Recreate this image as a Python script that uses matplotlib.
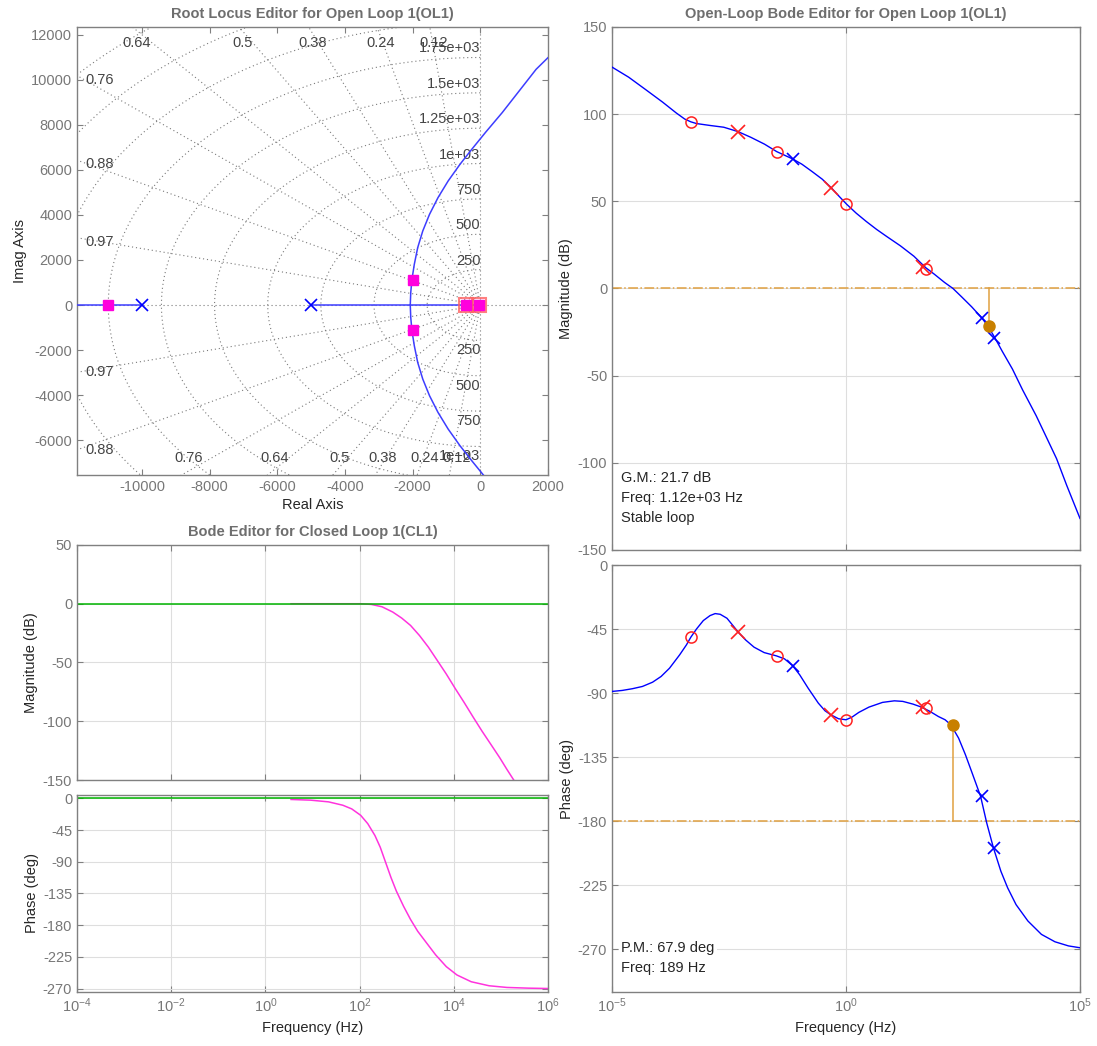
import numpy as np
import matplotlib.pyplot as plt
from matplotlib.ticker import NullLocator, FixedLocator, LogFormatterSciNotation

plt.rcParams['font.family'] = ['Liberation Sans', 'DejaVu Sans']
plt.rcParams['mathtext.fontset'] = 'custom'
plt.rcParams['mathtext.rm'] = 'Liberation Sans'
plt.rcParams['mathtext.it'] = 'Liberation Sans:italic'
plt.rcParams['axes.unicode_minus'] = False

# ---- root locus data (rad/s) ----
ol_pole_re = [-10000, -5000]
cl_pole_re = [-11000, -2000, -2000, -410, -50]
cl_pole_im = [0, 1120, -1120, 0, 0]
comp_re = [-410, -50]
# upper complex branch, lower one is its conjugate
branch_re = [-2070, -2055, -2020, -1950, -1850, -1700, -1500, -1250, -950,
             -600, -250, 150, 650, 1150, 1650, 2050]
branch_im = [0, 560, 1140, 1810, 2550, 3290, 4030, 4770, 5510,
             6250, 6920, 7660, 8550, 9510, 10470, 11060]
real_seg1 = [-20000, -10000]
real_seg2 = [-5000, 0]
zeta_vals = [0.12, 0.24, 0.38, 0.5, 0.64, 0.76, 0.88, 0.97]
wn_hz = [250, 500, 750, 1000, 1250, 1500, 1750, 2000, 2250, 2500]

# ---- closed loop bode (log10 Hz, dB, deg) ----
cl_mag_fexp = [0.545, 2.023, 2.250, 2.477, 2.705, 2.894, 3.083, 3.273, 3.462, 3.652,
               3.841, 4.030, 4.220, 4.409, 4.598, 4.788, 4.977, 5.129, 5.280]
cl_mag_db = [0, 0, -0.6, -2.6, -7.1, -12.2, -18.5, -27.1, -37.0, -48.4,
             -59.8, -72.1, -84.0, -96.3, -108.3, -119.7, -131.1, -141.0, -150.4]
cl_ph_fexp = [0.545, 0.962, 1.341, 1.644, 1.833, 2.023, 2.174, 2.326, 2.439, 2.553,
              2.667, 2.780, 2.932, 3.083, 3.235, 3.424, 3.614, 3.841, 4.068, 4.371,
              4.750, 5.129, 5.583, 6.0]
cl_ph_deg = [-1.4, -2.4, -4.8, -9.6, -14.8, -23.9, -35.8, -52.6, -69.3, -90.8,
             -112.3, -131.4, -152.9, -172.0, -188.7, -205.4, -222.1, -238.9, -250.8, -260.4,
             -266.1, -268.5, -269.5, -270.0]

# ---- open loop bode ----
ol_mag_fexp = [-5.0, -4.644, -4.282, -3.919, -3.628, -3.447, -3.316, -3.193, -2.903, -2.612,
               -2.308, -2.032, -1.742, -1.480, -1.132, -0.943, -0.726, -0.508, -0.312, -0.145,
               0.015, 0.218, 0.435, 0.653, 0.871, 1.161, 1.451, 1.705, 1.887, 2.104,
               2.286, 2.467, 2.685, 2.903, 3.033, 3.179, 3.338, 3.556, 3.774, 4.064,
               4.282, 4.499, 4.717, 5.0]
ol_mag_db = [127.0, 121.2, 114.1, 106.9, 100.7, 97.2, 95.6, 94.6, 93.5, 92.5,
             90.0, 86.7, 82.8, 78.5, 74.2, 71.3, 67.1, 62.7, 57.7, 52.8,
             48.3, 43.2, 38.4, 33.9, 29.8, 24.5, 18.5, 11.9, 8.2, 3.5,
             0.0, -4.7, -10.5, -16.9, -21.6, -28.2, -36.0, -46.2, -58.2, -73.0,
             -85.3, -97.6, -113.0, -131.9]
ol_ph_fexp = [-5.0, -4.783, -4.566, -4.350, -4.133, -3.952, -3.772, -3.555, -3.410, -3.316,
              -3.194, -3.049, -2.905, -2.796, -2.688, -2.543, -2.399, -2.312, -2.146, -1.965,
              -1.749, -1.488, -1.315, -1.142, -0.990, -0.809, -0.592, -0.448, -0.325, -0.159,
              0.0, 0.130, 0.275, 0.491, 0.780, 1.033, 1.214, 1.431, 1.611, 1.792,
              1.973, 2.117, 2.240, 2.406, 2.551, 2.695, 2.876, 3.006, 3.150, 3.309,
              3.454, 3.634, 3.887, 4.176, 4.465, 4.754, 5.0]
ol_ph_deg = [-88.8, -88.1, -86.9, -85.3, -82.3, -78.3, -72.5, -63.1, -56.1, -50.7,
             -44.9, -39.0, -35.5, -34.1, -34.6, -37.4, -43.2, -46.8, -52.6, -57.7,
             -61.5, -63.8, -65.9, -70.6, -77.1, -86.5, -97.0, -102.4, -105.2, -108.0,
             -108.7, -106.8, -103.5, -99.8, -96.5, -95.4, -95.8, -97.7, -99.8, -102.8,
             -106.4, -108.7, -112.2, -121.6, -133.2, -146.1, -162.5, -181.1, -198.7, -215.1,
             -226.8, -238.6, -250.1, -259.5, -264.7, -267.6, -268.9]

zero_fexp = [-3.31, -1.48, 0.01, 1.72]
zero_mag = [95.6, 78.5, 48.3, 11.4]
zero_ph = [-50.7, -63.8, -108.7, -100.5]
cpole_fexp = [-2.30, -0.31, 1.65]
cpole_mag = [90.0, 57.7, 12.3]
cpole_ph = [-46.8, -105.2, -99.8]
ppole_fexp = [-1.13, 2.90, 3.17]
ppole_mag = [74.2, -16.9, -28.2]
ppole_ph = [-70.6, -162.5, -198.7]

gm_db, gm_hz = 21.7, 1.12e3
pm_deg, pm_hz = 67.9, 189

BLUE = '#0000ff'
RED = '#ff2020'
MAG = '#ff33dd'
GREEN = '#00b400'
ORANGE = '#e0a040'
ORANGE_DOT = '#c88000'
TICKC = '#777777'
TITLEC = '#6e6e6e'
TXT = '#262626'


def f(e):
    return 10.0 ** np.array(e)


def style(ax):
    for s in ax.spines.values():
        s.set_color('#808080')
        s.set_linewidth(1.0)
    ax.tick_params(direction='in', top=True, right=True, colors='#808080',
                   labelcolor=TICKC, labelsize=10.5, length=4)


def title(ax, t):
    ax.set_title(t, fontsize=10.5, fontweight='bold', color=TITLEC, pad=6.5)


fig = plt.figure(figsize=(10.97, 10.46), dpi=100)
ax_rl = fig.add_axes([0.0702, 0.5459, 0.4293, 0.4283])
ax_clm = fig.add_axes([0.0702, 0.2543, 0.4293, 0.2247])
ax_clp = fig.add_axes([0.0702, 0.0516, 0.4293, 0.1884])
ax_olm = fig.add_axes([0.5579, 0.4742, 0.4266, 0.5000])
ax_olp = fig.add_axes([0.5579, 0.0516, 0.4266, 0.4082])

# ================= root locus =================
xl = (-11920, 2000)
yl = (-7550, 12350)
dot = (0, (1, 2.6))
gridc = '#7a7a7a'
R = 40000
for z in zeta_vals:
    th = np.arccos(z)
    for sgn in (1, -1):
        ax_rl.plot([0, -R * np.cos(th)], [0, sgn * R * np.sin(th)], ls=dot,
                   color=gridc, lw=0.8, zorder=1)
t = np.linspace(np.pi / 2, 3 * np.pi / 2, 400)
for fh in wn_hz:
    r = 2 * np.pi * fh
    ax_rl.plot(r * np.cos(t), r * np.sin(t), ls=dot, color=gridc, lw=0.8, zorder=1)
ax_rl.plot([0, 0], [-R, R], ls=dot, color=gridc, lw=0.8, zorder=1)
ax_rl.plot([-R, R], [0, 0], ls=dot, color=gridc, lw=0.8, zorder=1)

lab = dict(fontsize=10.5, color='#444444', zorder=2, textcoords='offset pixels')
for z in zeta_vals:
    th = np.arccos(z)
    slope = np.tan(th)
    s = '%.2g' % z
    # upper half
    if slope * (-xl[0]) < yl[1]:
        ax_rl.annotate(s, (xl[0], slope * (-xl[0])), xytext=(8, -4),
                       ha='left', va='center', **lab)
    else:
        ax_rl.annotate(s, (-yl[1] / slope, yl[1]), xytext=(4, -16),
                       ha='center', va='center', **lab)
    # lower half
    if slope * (-xl[0]) < -yl[0]:
        ax_rl.annotate(s, (xl[0], -slope * (-xl[0])), xytext=(8, 0),
                       ha='left', va='center', **lab)
    else:
        ax_rl.annotate(s, (yl[0] / slope, yl[0]), xytext=(7, 17),
                       ha='center', va='center', **lab)
for fh in wn_hz:
    r = 2 * np.pi * fh
    s = '%.3g' % fh
    if r < yl[1] - 700:
        ax_rl.annotate(s, (0, r), xytext=(0, 9), ha='right', va='center', **lab)
    if r < -yl[0] - 700:
        ax_rl.annotate(s, (0, -r), xytext=(0, -10), ha='right', va='center', **lab)

lc = '#3d3dff'
ax_rl.plot(real_seg1, [0, 0], color=lc, lw=1.1, zorder=3)
ax_rl.plot(real_seg2, [0, 0], color=lc, lw=1.1, zorder=3)
ax_rl.plot(branch_re, branch_im, color=lc, lw=1.1, zorder=3)
ax_rl.plot(branch_re, -np.array(branch_im), color=lc, lw=1.1, zorder=3)
ax_rl.plot(ol_pole_re, [0] * len(ol_pole_re), 'x', color=BLUE, ms=8, mew=1.2, zorder=4)
ax_rl.plot(comp_re, [0] * len(comp_re), 's', mfc='none', mec='#ff6060', ms=10,
           mew=1.5, alpha=0.8, zorder=4)
ax_rl.plot(cl_pole_re, cl_pole_im, 's', color='#ff00dd', ms=6.5, zorder=5)

ax_rl.set_xlim(xl)
ax_rl.set_ylim(yl)
ax_rl.set_xticks(np.arange(-10000, 2001, 2000))
ax_rl.set_yticks(np.arange(-6000, 12001, 2000))
style(ax_rl)
title(ax_rl, 'Root Locus Editor for Open Loop 1(OL1)')
ax_rl.set_xlabel('Real Axis', fontsize=10.5, color=TXT, labelpad=3)
ax_rl.set_ylabel('Imag Axis', fontsize=10.5, color=TXT, labelpad=3)

# ================= closed loop bode =================
for ax in (ax_clm, ax_clp):
    ax.set_xscale('log')
    ax.set_xlim(1e-4, 1e6)
    ax.xaxis.set_major_locator(FixedLocator(f([-4, -2, 0, 2, 4, 6])))
    ax.xaxis.set_minor_locator(NullLocator())
    ax.grid(True, color='#dedede', lw=0.8)
    ax.set_axisbelow(True)
    style(ax)

ax_clm.plot(f(cl_mag_fexp), cl_mag_db, color=MAG, lw=1.1)
ax_clm.plot([1e-4, 1e6], [0, 0], color=GREEN, lw=1.1)
ax_clm.set_ylim(-150, 50)
ax_clm.set_yticks([50, 0, -50, -100, -150])
ax_clm.tick_params(labelbottom=False)
ax_clm.set_ylabel('Magnitude (dB)', fontsize=10.5, color=TXT, labelpad=3)
title(ax_clm, 'Bode Editor for Closed Loop 1(CL1)')

ax_clp.plot(f(cl_ph_fexp), cl_ph_deg, color=MAG, lw=1.1)
ax_clp.plot([1e-4, 1e6], [0, 0], color=GREEN, lw=1.1)
ax_clp.set_ylim(-275, 5)
ax_clp.set_yticks(np.arange(0, -271, -45))
ax_clp.xaxis.set_major_formatter(LogFormatterSciNotation())
ax_clp.set_ylabel('Phase (deg)', fontsize=10.5, color=TXT, labelpad=3)
ax_clp.set_xlabel('Frequency (Hz)', fontsize=10.5, color=TXT, labelpad=4)

# ================= open loop bode =================
for ax in (ax_olm, ax_olp):
    ax.set_xscale('log')
    ax.set_xlim(1e-5, 1e5)
    ax.xaxis.set_major_locator(FixedLocator(f([-5, 0, 5])))
    ax.xaxis.set_minor_locator(NullLocator())
    ax.grid(True, color='#dedede', lw=0.8)
    ax.set_axisbelow(True)
    style(ax)

ax_olm.axhline(0, color=ORANGE, lw=1.1, ls='-.', zorder=2)
ax_olm.plot([gm_hz, gm_hz], [0, -gm_db], color=ORANGE, lw=1.1, zorder=2)
ax_olm.plot(f(ol_mag_fexp), ol_mag_db, color=BLUE, lw=1.0, zorder=3)
ax_olm.plot(f(zero_fexp), zero_mag, 'o', mfc='none', mec=RED, ms=8, mew=1.1, zorder=4)
ax_olm.plot(f(cpole_fexp), cpole_mag, 'x', color=RED, ms=10, mew=1.2, zorder=4)
ax_olm.plot(f(ppole_fexp), ppole_mag, 'x', color=BLUE, ms=8, mew=1.2, zorder=4)
ax_olm.plot([gm_hz], [-gm_db], 'o', color=ORANGE_DOT, ms=8, zorder=5)
ax_olm.set_ylim(-150, 150)
ax_olm.set_yticks(np.arange(-150, 151, 50))
ax_olm.tick_params(labelbottom=False)
ax_olm.set_ylabel('Magnitude (dB)', fontsize=10.5, color=TXT, labelpad=3)
title(ax_olm, 'Open-Loop Bode Editor for Open Loop 1(OL1)')
ax_olm.text(0.02, 0.048, 'G.M.: %.1f dB\nFreq: %.3g Hz\nStable loop' % (gm_db, gm_hz),
            transform=ax_olm.transAxes, ha='left', va='bottom', fontsize=10.5,
            color=TXT, linespacing=1.55,
            bbox=dict(facecolor='white', edgecolor='none', pad=1.5))

ax_olp.axhline(-180, color=ORANGE, lw=1.1, ls='-.', zorder=2)
ax_olp.plot([pm_hz, pm_hz], [-180, -180 + pm_deg], color=ORANGE, lw=1.1, zorder=2)
ax_olp.plot(f(ol_ph_fexp), ol_ph_deg, color=BLUE, lw=1.0, zorder=3)
ax_olp.plot(f(zero_fexp), zero_ph, 'o', mfc='none', mec=RED, ms=8, mew=1.1, zorder=4)
ax_olp.plot(f(cpole_fexp), cpole_ph, 'x', color=RED, ms=10, mew=1.2, zorder=4)
ax_olp.plot(f(ppole_fexp), ppole_ph, 'x', color=BLUE, ms=8, mew=1.2, zorder=4)
ax_olp.plot([pm_hz], [-180 + pm_deg], 'o', color=ORANGE_DOT, ms=8, zorder=5)
ax_olp.set_ylim(-300, 0)
ax_olp.set_yticks(np.arange(0, -271, -45))
ax_olp.xaxis.set_major_formatter(LogFormatterSciNotation())
ax_olp.set_ylabel('Phase (deg)', fontsize=10.5, color=TXT, labelpad=3)
ax_olp.set_xlabel('Frequency (Hz)', fontsize=10.5, color=TXT, labelpad=4)
ax_olp.text(0.02, 0.04, 'P.M.: %.1f deg\nFreq: %.3g Hz' % (pm_deg, pm_hz),
            transform=ax_olp.transAxes, ha='left', va='bottom', fontsize=10.5,
            color=TXT, linespacing=1.55, zorder=6,
            bbox=dict(facecolor='white', edgecolor='none', pad=1.5))

fig.savefig('out.png', dpi=100)
